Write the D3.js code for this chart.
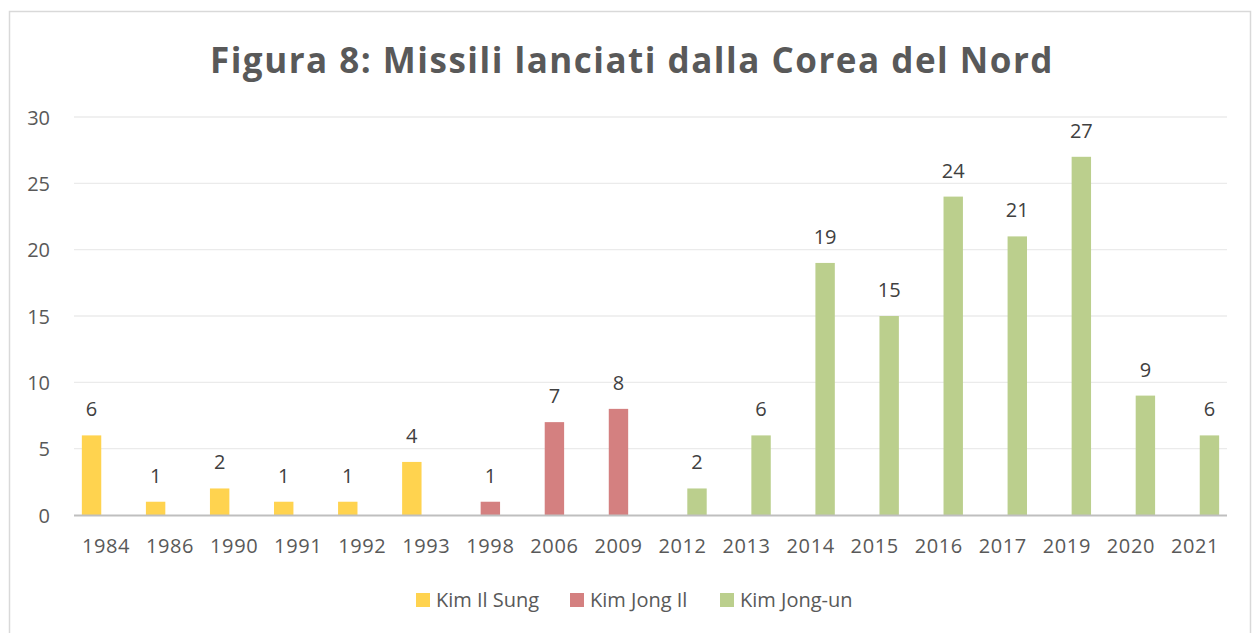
<!DOCTYPE html>
<html><head><meta charset="utf-8">
<script src="https://cdn.jsdelivr.net/npm/d3@7"></script>
<style>body{margin:0;background:#fff}svg{display:block}</style>
</head><body><svg id="c" width="1254" height="633"></svg>
<script>
const categories = ["1984","1986","1990","1991","1992","1993","1998","2006","2009","2012","2013","2014","2015","2016","2017","2019","2020","2021"];
const seriesNames = ["Kim Il Sung","Kim Jong Il","Kim Jong-un"];
const kimIlSung = [6,1,2,1,1,4,null,null,null,null,null,null,null,null,null,null,null,null];
const kimJongIl = [null,null,null,null,null,null,1,7,8,null,null,null,null,null,null,null,null,null];
const kimJongUn = [null,null,null,null,null,null,null,null,null,2,6,19,15,24,21,27,9,6];
const yTicks = [0,5,10,15,20,25,30];
const colors = ["#FFD34F","#D48080","#BBCF8D"];
const title = "Figura 8: Missili lanciati dalla Corea del Nord";

const seriesData = [kimIlSung, kimJongIl, kimJongUn];
const svg = d3.select("#c");
const font = "'Open Sans', sans-serif";
const fs = 20;

// chart border
svg.append("rect").attr("x",9.5).attr("y",11.5).attr("width",1241).attr("height",640)
  .attr("fill","#fff").attr("stroke","#d9d9d9").attr("stroke-width",1.5);

const L=74, R=1227, T=117, B=515;
const x0 = d3.scaleBand().domain(categories).range([L,R]).paddingInner(0).paddingOuter(0);
const bw = x0.bandwidth();
const x1 = d3.scalePoint().domain(seriesNames).range([bw/2-0.226*bw, bw/2+0.226*bw]);
const barW = 0.303*bw;
const y = d3.scaleLinear().domain([0,30]).range([B,T]);

// gridlines
svg.append("g").selectAll("line").data(yTicks.filter(d=>d>0)).join("line")
  .attr("x1",L).attr("x2",R).attr("y1",d=>y(d)).attr("y2",d=>y(d))
  .attr("stroke","#ebebeb").attr("stroke-width",1.3);

// y axis labels
const yAxis = d3.axisLeft(y).tickValues(yTicks).tickSize(0).tickPadding(0);
const gy = svg.append("g").attr("transform",`translate(50,0)`).call(yAxis);
gy.select(".domain").remove();
gy.selectAll("text").attr("font-family",font).attr("font-size",fs).attr("fill","#595959").attr("dy","0.35em");

// bars
seriesNames.forEach((s,si)=>{
  const data = categories.map((c,i)=>({c, v:seriesData[si][i]})).filter(d=>d.v!=null);
  const g = svg.append("g");
  g.selectAll("rect").data(data).join("rect")
    .attr("x",d=>x0(d.c)+x1(s)-barW/2).attr("width",barW)
    .attr("y",d=>y(d.v)).attr("height",d=>y(0)-y(d.v))
    .attr("fill",colors[si]);
  g.selectAll("text").data(data).join("text")
    .attr("x",d=>x0(d.c)+x1(s)).attr("y",d=>y(d.v)-19)
    .attr("text-anchor","middle").attr("font-family",font).attr("font-size",fs)
    .attr("fill","#404040").text(d=>d.v);
});

// baseline
svg.append("line").attr("x1",L).attr("x2",R).attr("y1",B+0.5).attr("y2",B+0.5)
  .attr("stroke","#bfbfbf").attr("stroke-width",2.2);

// x axis labels
const xAxis = d3.axisBottom(x0).tickSize(0).tickPadding(0);
const gx = svg.append("g").attr("transform",`translate(0,${B})`).call(xAxis);
gx.select(".domain").remove();
gx.selectAll("text").attr("font-family",font).attr("font-size",fs).attr("fill","#595959")
  .attr("dy",null).attr("y",38).attr("letter-spacing","0.6px");

// title
svg.append("text").attr("x",632).attr("y",73).attr("text-anchor","middle")
  .attr("font-family",font).attr("font-weight","bold").attr("font-size",35)
  .attr("letter-spacing","1.5px").attr("fill","#595959").text(title);

// legend
const legX = [416,570,720];
const lg = svg.append("g");
seriesNames.forEach((s,i)=>{
  lg.append("rect").attr("x",legX[i]).attr("y",593).attr("width",14).attr("height",14).attr("fill",colors[i]);
  lg.append("text").attr("x",legX[i]+20).attr("y",607).attr("font-family",font).attr("font-size",fs)
    .attr("fill","#595959").text(s);
});
</script></body></html>
